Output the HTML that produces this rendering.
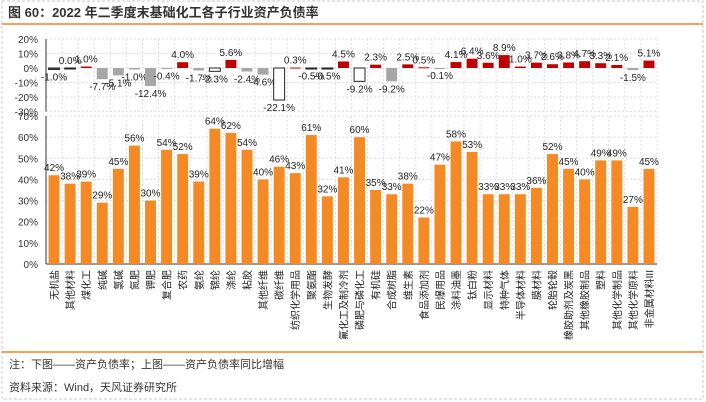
<!DOCTYPE html>
<html><head><meta charset="utf-8"><style>
body{margin:0;width:706px;height:402px;background:#fff;overflow:hidden;font-family:"Liberation Sans","Noto Sans CJK SC",sans-serif}
</style></head><body>
<svg id="c" width="706" height="402" xmlns="http://www.w3.org/2000/svg" style="position:absolute;left:0;top:0">
<rect x="2" y="1" width="701" height="398" fill="none" stroke="#c8c8c8" stroke-dasharray="3,2"/>
<text x="8" y="17" font-size="13" font-weight="bold" fill="#333">图 60：2022 年二季度末基础化工各子行业资产负债率</text>
<line x1="2" y1="24" x2="703" y2="24" stroke="#f58220" stroke-width="1.5"/>
<line x1="2" y1="352" x2="703" y2="352" stroke="#f58220" stroke-width="1.5"/>
<text x="9" y="368" font-size="11" fill="#333">注：下图——资产负债率；上图——资产负债率同比增幅</text>
<text x="9" y="391" font-size="11" fill="#333">资料来源：Wind，天风证券研究所</text>
<g id="g"></g>
</svg>
<script>
const categories=["无机盐","其他材料","煤化工","纯碱","氯碱","氮肥","钾肥","复合肥","农药","氨纶","锦纶","涤纶","粘胶","其他纤维","碳纤维","纺织化学用品","聚氨酯","生物发酵","氟化工及制冷剂","磷肥与磷化工","有机硅","合成树脂","维生素","食品添加剂","民爆用品","涂料油墨","钛白粉","显示材料","特种气体","半导体材料","膜材料","轮胎轮毂","橡胶助剂及炭黑","其他橡胶制品","塑料","其他化学制品","其他化学原料","非金属材料III"];
const debtRatio=[42,38,39,29,45,56,30,54,52,39,64,62,54,40,46,43,61,32,41,60,35,33,38,22,47,58,53,33,33,33,36,52,45,40,49,49,27,45];
const yoyChange=[-1.0,0.0,1.0,-7.7,-5.1,-1.0,-12.4,-0.4,4.0,-1.7,-2.3,5.6,-2.4,-4.6,-22.1,0.3,-0.5,-0.5,4.5,-9.2,2.3,-9.2,2.5,0.5,-0.1,4.1,6.4,3.6,8.9,1.0,3.7,2.6,3.8,4.7,3.3,2.1,-1.5,5.1];
const yoyStyle=["d","d","r","g","g","g","g","g","r","g","w","r","g","g","w","r","d","d","r","w","r","g","r","r","g","r","r","r","r","r","r","r","r","r","r","r","g","r"];
const topTicks=[20,10,0,-10,-20,-30];
const botTicks=[70,60,50,40,30,20,10,0];
const NS="http://www.w3.org/2000/svg",g=document.getElementById('g');
const L=46,R=657,n=categories.length,bw=(R-L)/n;
const xc=i=>L+bw*(i+0.5);
const yT=v=>68-(v/10)*14.5;
const yB=v=>264-(v/70)*148;
function mk(t,a,txt){const e=document.createElementNS(NS,t);for(const k in a)e.setAttribute(k,a[k]);if(txt!==undefined)e.textContent=txt;g.appendChild(e);return e;}
// grids
for(let i=0;i<=n;i++){const x=L+bw*i;
let e=mk('line',{x1:x,x2:x,y1:yT(20),y2:yT(-30),stroke:'#ddd','stroke-dasharray':'2,2'});


e=mk('line',{x1:x,x2:x,y1:yB(70),y2:yB(0),stroke:'#ddd','stroke-dasharray':'2,2'});

}
topTicks.forEach(t=>{let e=mk('line',{x1:L,x2:R,y1:yT(t),y2:yT(t),stroke:'#ddd','stroke-dasharray':'2,2'});


e=mk('text',{x:L-8,y:yT(t)+4,'font-size':10,'text-anchor':'end',fill:'#333'},t+'%');

});
botTicks.forEach(t=>{let e=mk('line',{x1:L,x2:R,y1:yB(t),y2:yB(t),stroke:'#ddd','stroke-dasharray':'2,2'});


e=mk('text',{x:L-8,y:yB(t)+4,'font-size':10,'text-anchor':'end',fill:'#333'},t+'%');

});
let ax=mk('line',{x1:L,x2:L,y1:yT(20),y2:yT(-30),stroke:'#333'});


ax=mk('line',{x1:L,x2:L,y1:yB(70),y2:yB(0),stroke:'#333'});


ax=mk('line',{x1:L,x2:R,y1:yB(0),y2:yB(0),stroke:'#333'});


const bwid=bw*0.68;
yoyChange.forEach((v,i)=>{const s=yoyStyle[i];
const fill=s==='r'?'#c00000':s==='g'?'#a6a6a6':s==='w'?'#fff':'#595959';
const stroke=s==='w'||s==='d'?'#222':'none';
const y0=yT(0),y1=yT(v),top=Math.min(y0,y1),h=Math.max(Math.abs(y1-y0),1);
let b=mk('rect',{x:xc(i)-bwid/2,y:top,width:bwid,height:h,fill:fill,stroke:stroke,'stroke-width':1});


const ly=v>=0?y1-4:y1+11;
let t=mk('text',{x:xc(i),y:ly,'font-size':10,'text-anchor':'middle',fill:'#222'},v.toFixed(1)+'%');

});
debtRatio.forEach((v,i)=>{
let b=mk('rect',{x:xc(i)-bwid/2,y:yB(v),width:bwid,height:yB(0)-yB(v),fill:'#f58a25'});


let t=mk('text',{x:xc(i),y:yB(v)-4,'font-size':10,'text-anchor':'middle',fill:'#222'},v+'%');


let c=mk('text',{'font-size':10,fill:'#222','text-anchor':'end',transform:`translate(${xc(i)+4},${yB(0)+6}) rotate(-90)`},categories[i]);

});
</script>
</body></html>
